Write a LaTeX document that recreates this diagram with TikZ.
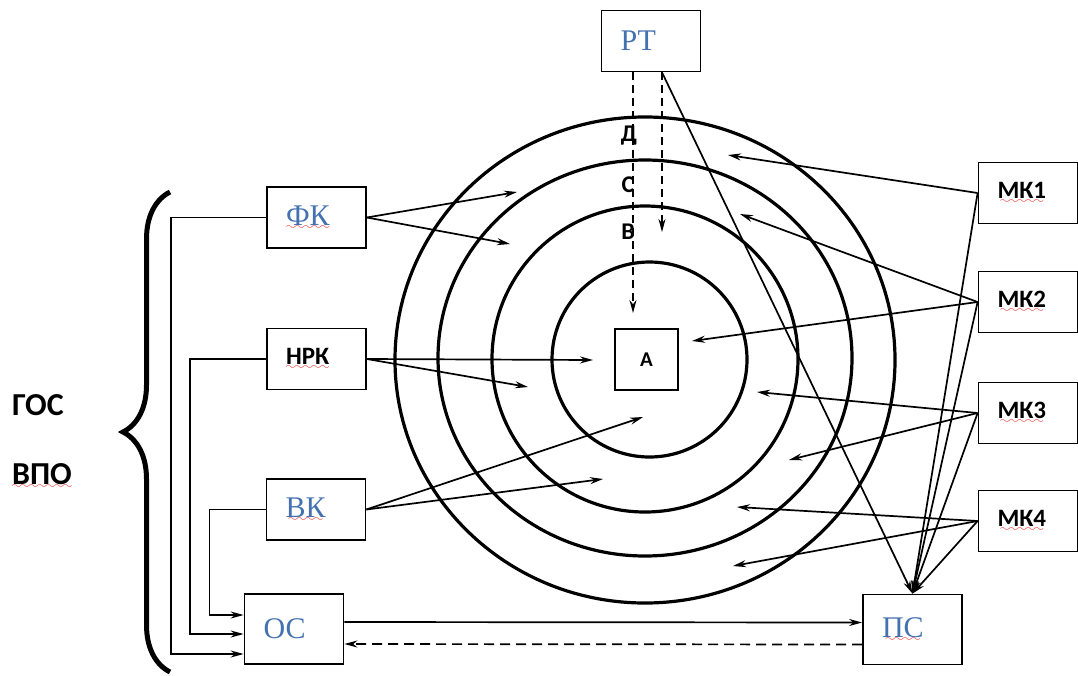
\documentclass[tikz,border=0pt]{standalone}
\usepackage{fontspec}
\setmainfont{Liberation Serif}
\newfontfamily\calib{Carlito}
\usetikzlibrary{arrows.meta,decorations.pathreplacing}

\definecolor{wordblue}{RGB}{68,114,176}
\definecolor{spellred}{RGB}{235,40,40}
\font\wavefont=lasy6 scaled 1700
% red wavy line under a word, as the spell checker draws it
\newsavebox\spellbox
\newcommand\spellmark[1]{\sbox\spellbox{#1}\rlap{\textcolor{spellred}{\lower4.5pt\hbox to \wd\spellbox{\cleaders\hbox{\wavefont\char58}\hfill}}}\usebox\spellbox}

\begin{document}
\begin{tikzpicture}[x=1pt,y=-1pt,
  >={Stealth[length=13pt,width=7pt]},
  unit/.style={draw,line width=1.8pt,minimum height=61pt,text width=61pt,inner xsep=19pt,inner ysep=0pt,align=left},
  bluelab/.style={font=\fontsize{30}{30}\selectfont,text=wordblue},
  boldlab/.style={font={\calib\bfseries\fontsize{25}{25}\selectfont}},
  ringlab/.style={font={\calib\bfseries\fontsize{24}{24}\selectfont}},
  ring/.style={line width=3.2pt},
  link/.style={line width=1.7pt},
  dashlink/.style={link,dash pattern=on 8pt off 5pt}]

  \useasboundingbox (0,0) rectangle (1078,675);

  % Rings
  \draw[ring] (645,360) ellipse [x radius=250pt, y radius=243pt];
  \draw[ring] (645,358) ellipse [x radius=207pt, y radius=198pt];
  \draw[ring] (645,359) circle [radius=153pt];
  \draw[ring] (649.5,359.5) circle [radius=97.5pt];

  % Ring labels
  \node[ringlab] (d) at (629,136) {Д};
  \node[ringlab] (c) at (628,185) {С};
  \node[ringlab] (b) at (628,232) {В};

  % Boxes
  \node[unit,bluelab] (rt) at (651,41) {РТ};
  \node[unit,bluelab] (fk) at (316.5,217.5) {\spellmark{ФК}};
  \node[unit,boldlab] (nrk) at (316.5,359) {\spellmark{НРК}};
  \node[unit,bluelab] (vk) at (316,509.5) {\spellmark{ВК}};
  \node[unit,bluelab,minimum height=70pt] (oc) at (294,629) {ОС};
  \node[unit,bluelab,minimum height=70pt] (ps) at (912.5,629.5) {\spellmark{ПС}};
  \node[draw,line width=1.8pt,minimum width=63pt,minimum height=61pt,
    font={\calib\bfseries\fontsize{21}{21}\selectfont}] (a) at (646.5,359.5) {А};
  \foreach \i/\y in {1/193,2/302,3/413,4/521}
    {\node[unit,boldlab] (mk\i) at (1028,\y) {\spellmark{МК\i}};}

  % Left side
  \node[font={\calib\bfseries\fontsize{32}{32}\selectfont}] (gos) at (38,405) {ГОС};
  \node[font={\calib\bfseries\fontsize{32}{32}\selectfont}] (vpo) at (42,476) {\spellmark{ВПО}};
  \draw[line width=5pt,decorate,decoration={brace,amplitude=47pt}] (170,672) -- (170,192);

  % Arrow ends inside the rings
  \foreach \n/\x/\y in {fk1/517/192, fk2/510/244, nrk1/593/360, nrk2/528/387,
      vk1/643/417, vk2/603/479, mk11/728/155, mk21/740/214, mk22/692/341,
      mk31/757/392, mk32/789/460, mk41/737/507, mk42/733/566, rt1/633/313, rt2/662/232}
    {\coordinate (\n) at (\x,\y);}

  % Arrows into the rings
  \foreach \s in {fk,nrk,vk}
    {\draw[link,->] (\s.east) -- (\s1);
     \draw[link,->] (\s.east) -- (\s2);}
  \foreach \s/\t in {mk1/mk11, mk2/mk21, mk2/mk22, mk3/mk31, mk3/mk32, mk4/mk41, mk4/mk42}
    {\draw[link,->] (\s.west) -- (\t);}
  \foreach \s in {mk1,mk2,mk3,mk4}
    {\draw[link,->] (\s.west) -- (ps.north);}
  \draw[dashlink,->] ([xshift=-18pt]rt.south) -- (rt1);
  \draw[dashlink,->] ([xshift=11pt]rt.south) -- (rt2);
  \draw[link,->] ([xshift=11pt]rt.south) -- (ps.north);

  % Feedback to OC
  \draw[link,->] (fk.west) -- ++(-95,0) |- ([yshift=-25pt]oc.west);
  \draw[link,->] (nrk.west) -- ++(-76,0) |- ([yshift=-5pt]oc.west);
  \draw[link,->] (vk.west) -- ++(-56,0) |- ([yshift=14pt]oc.west);
  \draw[link,->] ([yshift=7pt]oc.east) -- ([yshift=7pt]ps.west);
  \draw[link,dash pattern=on 10pt off 6pt,->] ([yshift=-15pt]ps.west) -- ([yshift=-15pt]oc.east);
\end{tikzpicture}
\end{document}
